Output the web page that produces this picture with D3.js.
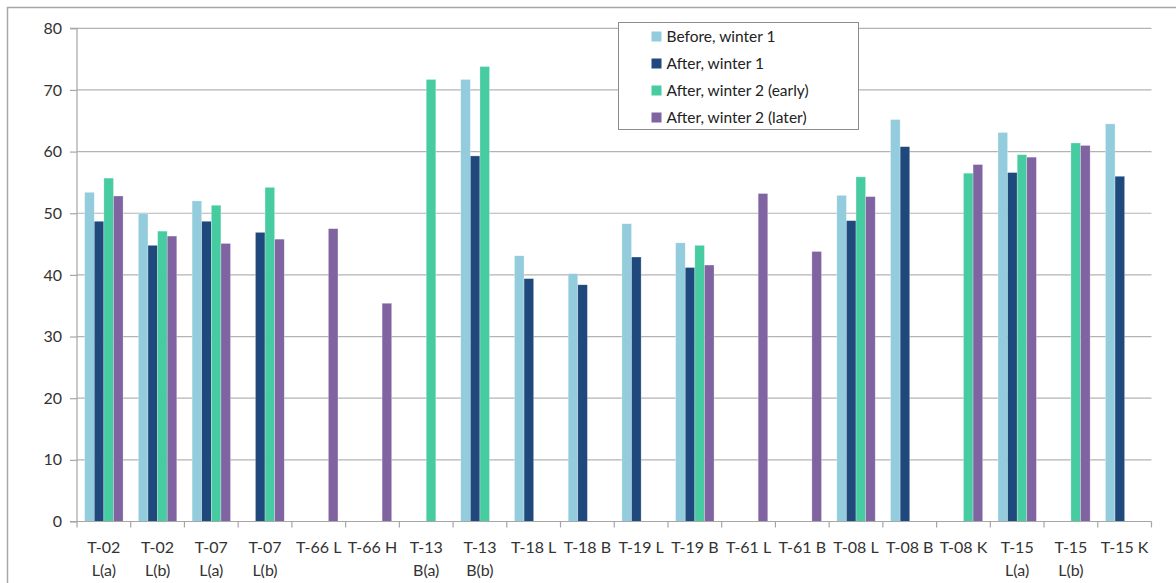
<!DOCTYPE html>
<html><head><meta charset="utf-8">
<script src="https://cdn.jsdelivr.net/npm/d3@7"></script>
<style>
html,body{margin:0;padding:0;background:#fff;}
svg{display:block;font-family:Lato,"Open Sans",sans-serif;}
</style></head>
<body>
<svg id="chart" width="1176" height="583"></svg>
<script>
const categories = [["T-02","L(a)"],["T-02","L(b)"],["T-07","L(a)"],["T-07","L(b)"],["T-66 L"],["T-66 H"],["T-13","B(a)"],["T-13","B(b)"],["T-18 L"],["T-18 B"],["T-19 L"],["T-19 B"],["T-61 L"],["T-61 B"],["T-08 L"],["T-08 B"],["T-08 K"],["T-15","L(a)"],["T-15","L(b)"],["T-15 K"]];
const seriesNames = ["Before, winter 1","After, winter 1","After, winter 2 (early)","After, winter 2 (later)"];
const seriesColors = ["#93CDDD","#1F497D","#47CCA2","#8064A2"];
const beforeW1 = [53.4,50.0,52.0,null,null,null,null,71.7,43.1,40.2,48.3,45.2,null,null,52.9,65.2,null,63.1,null,64.5];
const afterW1 = [48.7,44.8,48.7,46.9,null,null,null,59.3,39.4,38.4,42.9,41.2,null,null,48.8,60.8,null,56.6,null,56.0];
const afterW2early = [55.7,47.1,51.3,54.2,null,null,71.7,73.8,null,null,null,44.8,null,null,55.9,null,56.5,59.5,61.4,null];
const afterW2later = [52.8,46.3,45.1,45.8,47.5,35.4,null,null,null,null,null,41.6,53.2,43.8,52.7,null,57.9,59.1,61.0,null];
const yTicks = [0,10,20,30,40,50,60,70,80];

const allSeries = [beforeW1, afterW1, afterW2early, afterW2later];
const svg = d3.select("#chart");
const mLeft = 77, mRight = 1151.5, mTop = 28.3, mBottom = 521.5;

// outer frame
svg.append("path").attr("d","M7.5,583 V7.5 H1176").attr("fill","none").attr("stroke","#a6a6a6").attr("stroke-width",1.5);

const labels = categories.map(c => c.join(" "));
const x0 = d3.scaleBand().domain(labels).range([mLeft,mRight]).paddingInner(0.285).paddingOuter(0.1425);
const x1 = d3.scaleBand().domain(d3.range(4)).range([0,x0.bandwidth()]);
const y = d3.scaleLinear().domain([0,80]).range([mBottom,mTop]);

// gridlines
svg.append("g").selectAll("line").data(yTicks.filter(t=>t>0)).join("line")
  .attr("x1",mLeft).attr("x2",mRight).attr("y1",d=>y(d)).attr("y2",d=>y(d))
  .attr("stroke","#b3b3b3").attr("stroke-width",1.2);

// bars
const g = svg.append("g");
allSeries.forEach((vals,si)=>{
  g.append("g").selectAll("rect").data(vals.map((v,i)=>({v,i})).filter(d=>d.v!=null)).join("rect")
    .attr("x",d=>x0(labels[d.i])+x1(si))
    .attr("width",x1.bandwidth())
    .attr("y",d=>y(d.v))
    .attr("height",d=>y(0)-y(d.v))
    .attr("fill",seriesColors[si])
    .attr("stroke","rgba(255,255,255,0.45)").attr("stroke-width",0.6);
});

// y axis
const yAxis = d3.axisLeft(y).tickValues(yTicks).tickSize(7).tickPadding(8);
const ya = svg.append("g").attr("transform",`translate(${mLeft},0)`).call(yAxis);
ya.select(".domain").attr("stroke","#a6a6a6").attr("stroke-width",1.2).attr("d",`M-7,${mTop}H0V${mBottom}H-7`);
ya.selectAll(".tick line").attr("stroke","#a6a6a6").attr("stroke-width",1.2);
ya.selectAll(".tick text").attr("font-size",16).attr("fill","#333").attr("font-family","Lato");

// x axis
const xa = svg.append("g").attr("transform",`translate(0,${mBottom})`);
xa.append("line").attr("x1",mLeft).attr("x2",mRight).attr("y1",0).attr("y2",0).attr("stroke","#a6a6a6").attr("stroke-width",1.2);
const step = x0.step();
const boundaries = d3.range(labels.length+1).map(i=>x0(labels[0]) - x0.paddingOuter()*step + i*step);
xa.selectAll(".bt").data(boundaries).join("line").attr("class","bt")
  .attr("x1",d=>d).attr("x2",d=>d).attr("y1",0).attr("y2",6).attr("stroke","#a6a6a6").attr("stroke-width",1.2);
const xl = xa.selectAll(".xl").data(categories).join("text").attr("class","xl")
  .attr("x",(d,i)=>x0(labels[i])+x0.bandwidth()/2).attr("y",31)
  .attr("text-anchor","middle").attr("font-size",16).attr("fill","#333");
xl.each(function(d){
  const t = d3.select(this);
  d.forEach((line,k)=>t.append("tspan").attr("x",t.attr("x")).attr("dy",k===0?0:23).text(line));
});

// legend
const lg = svg.append("g").attr("transform","translate(618.5,22.5)");
lg.append("rect").attr("width",240).attr("height",107).attr("fill","#fff").attr("stroke","#8c8c8c").attr("stroke-width",1);
seriesNames.forEach((n,i)=>{
  const yy = 14 + i*27;
  lg.append("rect").attr("x",33).attr("y",yy-5).attr("width",10).attr("height",10).attr("fill",seriesColors[i]);
  lg.append("text").attr("x",48).attr("y",yy+5.5).attr("font-size",15.5).attr("fill","#222").text(n);
});
</script>
</body></html>
